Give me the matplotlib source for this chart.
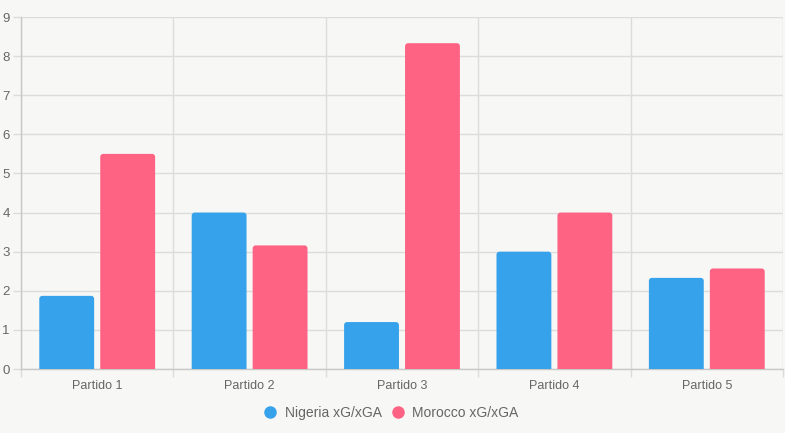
import matplotlib
matplotlib.use("Agg")
import matplotlib.pyplot as plt
import numpy as np
from matplotlib.patches import FancyBboxPatch

categories = ["Partido 1", "Partido 2", "Partido 3", "Partido 4", "Partido 5"]
nigeria = [1.87, 4.0, 1.2, 3.0, 2.33]
morocco = [5.5, 3.16, 8.33, 4.0, 2.57]
series_names = ["Nigeria xG/xGA", "Morocco xG/xGA"]
colors = ["#36A2EB", "#FF6384"]

plt.rcParams['font.family'] = ['Liberation Sans', 'DejaVu Sans']
W, H = 785, 433
fig = plt.figure(figsize=(W/100, H/100), dpi=100, facecolor="#f7f7f5")
ax = fig.add_axes([21/W, (H-369)/H, (783-21)/W, (369-17)/H])
ax.set_facecolor("#f7f7f5")

x = np.arange(len(categories))
bw = 0.36
ax.set_xlim(-0.5, len(categories) - 0.5)
ax.set_ylim(0, 9)

rx = 3 / 152.4
ry = 3 / 39.1
for vals, off, c, name in [(nigeria, -0.2, colors[0], series_names[0]),
                           (morocco, 0.2, colors[1], series_names[1])]:
    bars = ax.bar(x + off, vals, width=bw, color=c, label=name, zorder=3)
    for b in bars:
        bx, by, bwid, bh = b.get_x(), b.get_y(), b.get_width(), b.get_height()
        b.set_visible(False)
        p = FancyBboxPatch((bx, by - 0.2), bwid, bh + 0.2,
                           boxstyle=f"round,pad=0,rounding_size={rx}",
                           mutation_aspect=ry / rx, facecolor=c, edgecolor='none',
                           zorder=3, clip_on=True)
        ax.add_patch(p)

ax.set_yticks(range(0, 10))
ax.set_xticks(x)
ax.set_xticklabels(categories)
ax.set_xticks(np.arange(-0.5, len(categories)), minor=True)

grid_c = "#dcdcdc"
ax.grid(axis='y', color=grid_c, linewidth=1, zorder=0)
ax.grid(axis='x', which='minor', color=grid_c, linewidth=1, zorder=0)
ax.tick_params(axis='x', which='major', length=0, pad=8, labelsize=9, labelcolor="#666666")
ax.tick_params(axis='x', which='minor', length=6, color=grid_c, width=1)
ax.tick_params(axis='y', length=6, color=grid_c, width=1, pad=2, labelsize=9.5, labelcolor="#666666")
for s in ['top', 'right']:
    ax.spines[s].set_visible(False)
for s in ['left', 'bottom']:
    ax.spines[s].set_color("#c8c8c8")
    ax.spines[s].set_linewidth(1)

handles = [plt.Line2D([], [], marker='o', linestyle='', markersize=8,
                      markerfacecolor=c, markeredgecolor=c) for c in colors]
fig.legend(handles, series_names, loc='center', bbox_to_anchor=(389/W, (H-413)/H),
           ncol=2, frameon=False, fontsize=10, labelcolor="#666666",
           handletextpad=0.3, columnspacing=0.4, handlelength=1.5)

fig.savefig("out.png", dpi=100, facecolor=fig.get_facecolor())
